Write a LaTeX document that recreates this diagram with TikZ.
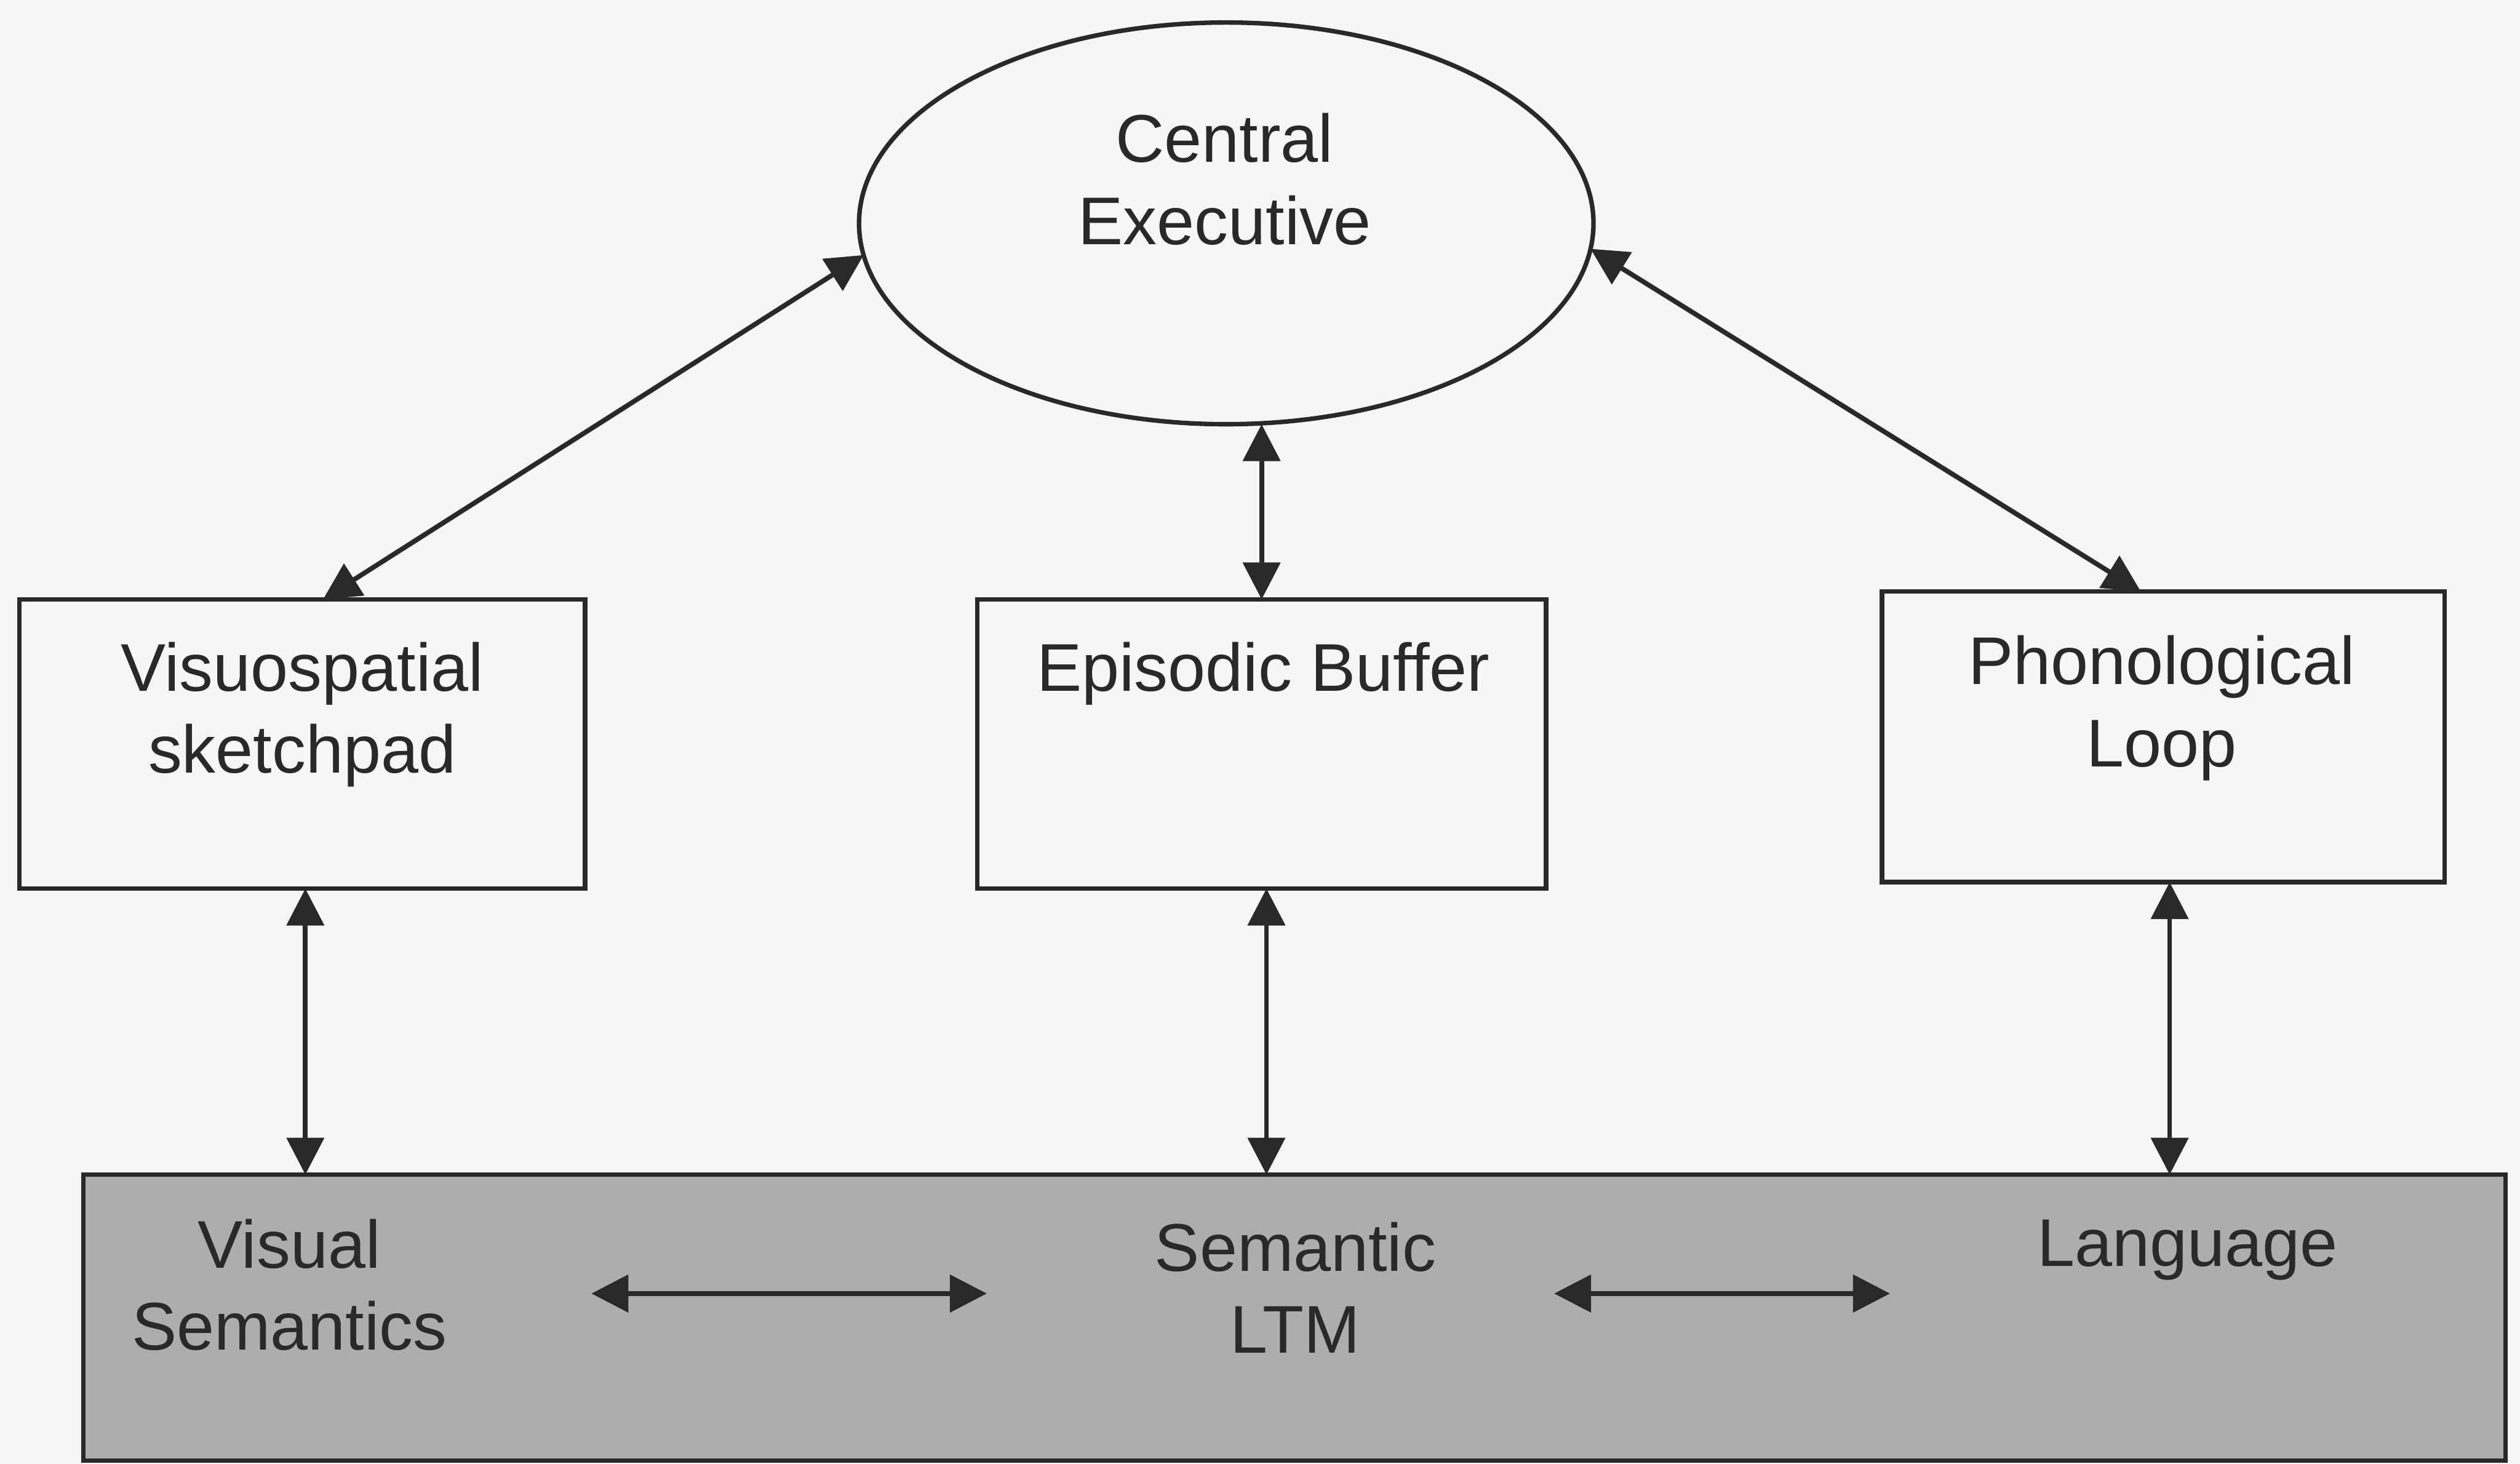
\documentclass[tikz,border=0pt]{standalone}
\usepackage{fontspec}
\setmainfont{Liberation Sans}
\usetikzlibrary{arrows.meta,shapes.geometric}

\definecolor{ink}{gray}{0.16}
\definecolor{paper}{gray}{0.965}
\definecolor{ltmfill}{gray}{0.68}

\tikzset{
  tip/.tip={Triangle[length=11.5pt,width=11.5pt]},
  wire/.style={draw=ink, line width=1.5pt, tip-tip},
  unitbox/.style={draw=ink, line width=1.4pt, rectangle, inner sep=0pt, outer sep=0pt},
  % labels sit on the baseline of their last line
  lbl/.style={font=\fontsize{21pt}{25.5pt}\selectfont, text=ink, align=center,
              inner sep=0pt, anchor=base},
}

\begin{document}
\begin{tikzpicture}[x=0.5pt, y=-0.5pt]
  % page
  \fill[paper] (0,0) rectangle (1568,911);
  \useasboundingbox (0,0) rectangle (1568,911);

  % central executive
  \node[ellipse, draw=ink, line width=1.4pt, inner sep=0pt, outer sep=0pt,
        minimum width=228.5pt, minimum height=125pt] (ce) at (763,139) {};
  \node[lbl] (ce-label) at (762,152) {Central\\Executive};

  % slave systems
  \node[unitbox, minimum width=176pt, minimum height=90pt] (vsp) at (188,463) {};
  \node[lbl] (vsp-label) at (188,481) {Visuospatial\\sketchpad};

  \node[unitbox, minimum width=177pt, minimum height=90pt] (eb) at (785,463) {};
  \node[lbl] (eb-label) at (786,430) {Episodic Buffer};

  \node[unitbox, minimum width=175pt, minimum height=90.5pt] (pl) at (1346,458.5) {};
  \node[lbl] (pl-label) at (1345,477) {Phonological\\Loop};

  % long-term memory band
  \node[unitbox, fill=ltmfill, minimum width=753.5pt, minimum height=89pt] (ltm) at (805.5,820) {};
  \node[lbl] (vs-label) at (180,840) {Visual\\Semantics};
  \node[lbl] (sem-label) at (806,842) {Semantic\\LTM};
  \node[lbl] (lang-label) at (1361,788) {Language};

  % links to the central executive
  \draw[wire] ([xshift=6.5pt]vsp.north) -- (ce.185);
  \draw[wire] ([xshift=-7pt]pl.north) -- (ce.356);
  \draw[wire] (eb.north) -- (eb.north |- ce.south);

  % links down to long-term memory
  \draw[wire] ([xshift=1pt]vsp.south) -- ([xshift=1pt]vsp.south |- ltm.north);
  \draw[wire] ([xshift=1.5pt]eb.south) -- ([xshift=1.5pt]eb.south |- ltm.north);
  \draw[wire] ([xshift=2pt]pl.south) -- ([xshift=2pt]pl.south |- ltm.north);

  % links inside long-term memory
  \coordinate (vs-end) at (368,805);
  \coordinate (sem-west) at (614,805);
  \coordinate (sem-east) at (967,805);
  \coordinate (lang-end) at (1176,805);
  \draw[wire] (vs-end) -- (sem-west);
  \draw[wire] (sem-east) -- (lang-end);
\end{tikzpicture}
\end{document}
